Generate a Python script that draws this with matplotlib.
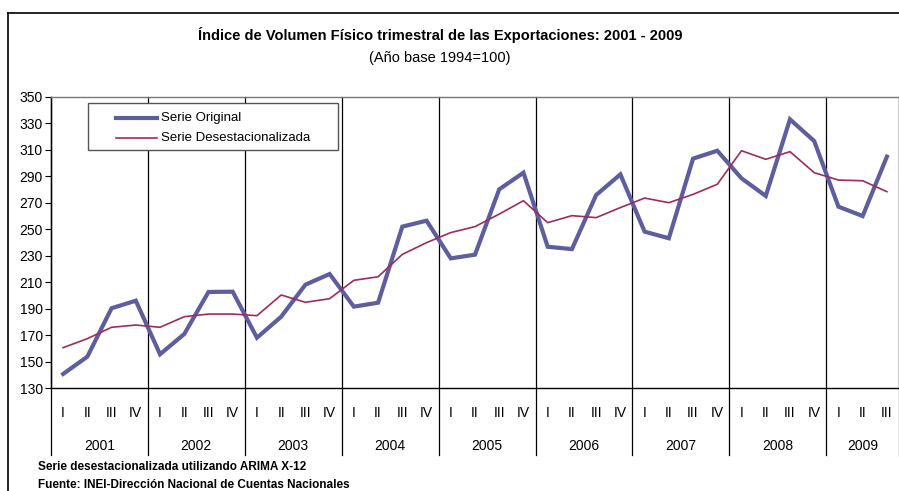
import matplotlib
matplotlib.use("Agg")
import matplotlib.pyplot as plt
from matplotlib.lines import Line2D
from matplotlib.patches import Rectangle

plt.rcParams["font.family"] = ["Liberation Sans Narrow", "Liberation Sans", "DejaVu Sans"]

# Data (quarterly, 2001 Q1 - 2009 Q3)
years = ["2001", "2002", "2003", "2004", "2005", "2006", "2007", "2008", "2009"]
quarters = ["I", "II", "III", "IV"]
serie_original = [
    140.6, 153.7, 190.3, 196.0,
    155.5, 170.8, 202.6, 202.8,
    168.0, 183.9, 208.1, 216.2,
    191.5, 194.5, 252.0, 256.5,
    228.0, 230.8, 280.2, 292.8,
    236.8, 235.0, 275.9, 291.5,
    248.2, 243.2, 303.4, 309.4,
    288.5, 275.2, 333.1, 316.7,
    267.1, 260.0, 304.9,
]
serie_desest = [
    160.5, 167.3, 175.9, 177.6,
    175.9, 183.9, 185.9, 185.9,
    184.7, 200.3, 194.8, 197.5,
    211.4, 214.1, 231.0, 239.9,
    247.5, 252.0, 261.5, 271.6,
    255.0, 260.3, 258.8, 266.4,
    273.6, 270.1, 276.4, 284.0,
    309.4, 302.9, 308.7, 292.8,
    287.2, 286.7, 278.4,
]

COLOR_ORIG = "#5E5E9E"
COLOR_DESEST = "#9E2B5E"

W, H = 899, 491
fig = plt.figure(figsize=(W / 100, H / 100), dpi=100)

# Plot area in pixel coordinates of the reference
left, right, top, bottom = 51, 899, 97, 388
ax = fig.add_axes([left / W, 1 - bottom / H, (right - left) / W, (bottom - top) / H])


def px_to_axes(x, y):
    # pixel position of the reference -> axes fraction
    return (x - left) / (right - left), (bottom - y) / (bottom - top)


n = len(serie_original)
xs = [i + 0.5 for i in range(n)]
ax.plot(xs, serie_original, color=COLOR_ORIG, lw=3.0, solid_joinstyle="miter", zorder=3)
ax.plot(xs, serie_desest, color=COLOR_DESEST, lw=1.2, zorder=4)

ax.set_xlim(0, n)
ax.set_ylim(130, 350)
ax.set_yticks(range(130, 351, 20))
ax.tick_params(axis="y", direction="out", length=4, width=0.8, labelsize=10, pad=2)
ax.set_xticks([])

for side in ["top", "right"]:
    ax.spines[side].set_color("#777777")
    ax.spines[side].set_linewidth(1.0)
for side in ["left", "bottom"]:
    ax.spines[side].set_color("black")
    ax.spines[side].set_linewidth(1.0)

# Year separators running through the plot and down through the label area
trans = ax.get_xaxis_transform()
sep_bottom = px_to_axes(0, 455)[1]
for k in range(0, n + 1, 4):
    ax.add_line(Line2D([k, k], [sep_bottom, 1], transform=trans, color="black",
                       lw=0.9, clip_on=False, zorder=2))
ax.add_line(Line2D([n, n], [sep_bottom, 1], transform=trans, color="#777777",
                   lw=1.0, clip_on=False, zorder=2))

# Quarter and year labels
q_y = px_to_axes(0, 413)[1]
y_y = px_to_axes(0, 446)[1]
for i in range(n):
    ax.text(i + 0.5, q_y, quarters[i % 4], transform=trans, ha="center",
            va="center", fontsize=10)
for j, yr in enumerate(years):
    start = j * 4
    end = min(start + 4, n)
    ax.text((start + end) / 2, y_y, yr, transform=trans, ha="center",
            va="center", fontsize=10)

# Legend box, drawn in place to match the reference layout
bx0, by0 = px_to_axes(88, 150)
bx1, by1 = px_to_axes(338, 103)
ax.add_patch(Rectangle((bx0, by0), bx1 - bx0, by1 - by0, transform=ax.transAxes,
                       facecolor="white", edgecolor="#555555", lw=1.0, zorder=5))
legend_items = [("Serie Original", COLOR_ORIG, 3.0, 118),
                ("Serie Desestacionalizada", COLOR_DESEST, 1.2, 138)]
for label, color, lw, ypx in legend_items:
    hx0, hy = px_to_axes(116, ypx)
    hx1, _ = px_to_axes(157, ypx)
    tx, _ = px_to_axes(161, ypx)
    ax.add_line(Line2D([hx0, hx1], [hy, hy], transform=ax.transAxes, color=color,
                       lw=lw, zorder=6))
    ax.text(tx, hy, label, transform=ax.transAxes, ha="left", va="center",
            fontsize=9.5, zorder=6)

# Titles
fig.text(440 / W, 1 - 35 / H, "Índice de Volumen Físico trimestral de las Exportaciones: 2001 - 2009",
         ha="center", va="center", fontsize=10.5, fontweight="bold")
fig.text(440 / W, 1 - 58 / H, "(Año base 1994=100)", ha="center", va="center", fontsize=10.5)

# Footnotes
fig.text(38 / W, 1 - 467 / H, "Serie desestacionalizada utilizando ARIMA X-12",
         ha="left", va="center", fontsize=8.5, fontweight="bold")
fig.text(38 / W, 1 - 485 / H, "Fuente: INEI-Dirección Nacional de Cuentas Nacionales",
         ha="left", va="center", fontsize=8.5, fontweight="bold")

# Outer chart frame (cropped at right and bottom)
fig.add_artist(Line2D([8 / W, 8 / W], [0, 1 - 13 / H], transform=fig.transFigure,
                      color="black", lw=1.2))
fig.add_artist(Line2D([8 / W, 1], [1 - 13 / H, 1 - 13 / H], transform=fig.transFigure,
                      color="black", lw=1.2))

fig.savefig("out.png", dpi=100)
